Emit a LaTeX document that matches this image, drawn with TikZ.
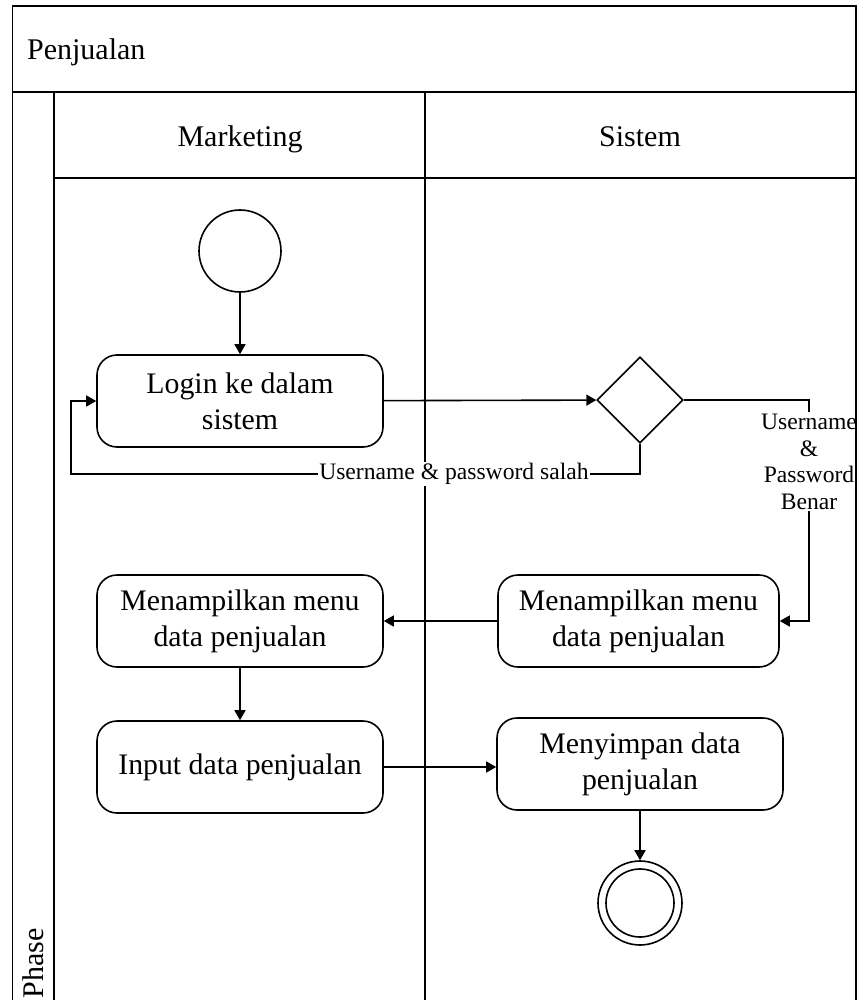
\documentclass[tikz,border=0pt]{standalone}
\usepackage{fontspec}
\setmainfont{Liberation Serif}
\usetikzlibrary{shapes,arrows.meta,positioning}

\begin{document}
\begin{tikzpicture}[x=1pt,y=-1pt,line width=1.6pt,
	act/.style={draw,rounded corners=20pt,minimum width=286pt,minimum height=92pt,align=center,inner sep=2pt,font=\fontsize{29.8}{36}\selectfont},
	lbl/.style={fill=white,inner sep=1pt,align=center,font=\fontsize{23.6}{26.5}\selectfont},
	head/.style={font=\fontsize{30}{34}\selectfont},
	flow/.style={-{Triangle[length=10pt,width=11pt]}}]
	\useasboundingbox (0,0) rectangle (859,1000);

	% swimlanes
	\draw (12.5,92) -- (856,92);
	\draw (54,92) -- (54,1000);
	\draw (425,92) -- (425,1000);
	\draw (54,178) -- (856,178);
	\node[head,anchor=base west] (pool) at (23,60) {Penjualan};
	\node[head,rotate=90] (phase) at (33,963) {Phase};
	\node[head,anchor=base] (marketing) at (240,147) {Marketing};
	\node[head,anchor=base] (sistem) at (640,147) {Sistem};

	% activities
	\node[circle,draw,minimum size=82pt,inner sep=0pt] (start) at (240,251) {};
	\node[act] (login) at (240,401) {Login ke dalam\\sistem};
	\node[diamond,draw,aspect=1,minimum size=86pt,inner sep=0pt] (cek) at (640,400) {};
	\node[act,minimum width=281pt] (menuS) at (638.5,621) {Menampilkan menu\\data penjualan};
	\node[act] (menuM) at (240,621) {Menampilkan menu\\data penjualan};
	\node[act] (input) at (240,767) {Input data penjualan};
	\node[act] (simpan) at (640,764) {Menyimpan data\\penjualan};
	\node[circle,draw,minimum size=84pt,inner sep=0pt] (end) at (640,903) {};
	\node[circle,draw,minimum size=68pt,inner sep=0pt] (endin) at (end) {};

	\coordinate (salahR) at (640,474);
	\coordinate (salahL) at (71,474);
	\coordinate (benarT) at (809,400);
	\coordinate (benarB) at (809,621);

	% flows
	\draw[flow] (start) -- (login);
	\draw[flow] (login) -- (cek);
	\draw[flow] (cek.south) -- (salahR) -- node[lbl,pos=.327] {Username \& password salah} (salahL) |- (login.west);
	\draw[flow] (cek.east) -- (benarT) -- node[lbl,pos=.28,inner xsep=0pt,inner ysep=2pt] {Username\\\&\\Password\\Benar} (benarB) -- (menuS.east);
	\draw[flow] (menuS) -- (menuM);
	\draw[flow] (menuM) -- (input);
	\draw[flow] (input.east) -- (input.east -| simpan.west);
	\draw[flow] (simpan) -- (end);

	% pool border
	\draw (12.5,1000) -- (12.5,6) -- (856,6) -- (856,1000);
\end{tikzpicture}
\end{document}
